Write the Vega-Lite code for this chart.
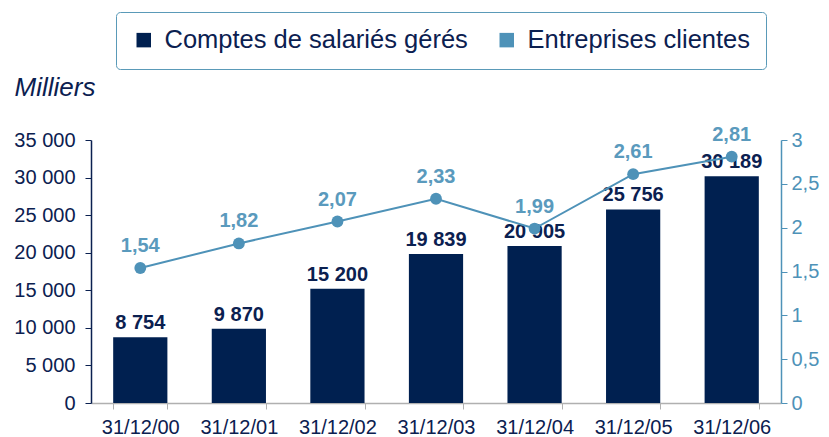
{
  "$schema": "https://vega.github.io/schema/vega-lite/v6.json",
  "width": 690,
  "height": 263,
  "autosize": "none",
  "padding": {"left": 91, "top": 140, "right": 48, "bottom": 34},
  "background": "white",
  "config": {
    "locale": {"number": {"decimal": ",", "thousands": " ", "grouping": [3], "currency": ["", " €"]}},
    "font": "Liberation Sans",
    "view": {"stroke": null},
    "axis": {"grid": false, "labelFont": "Liberation Sans", "labelFontSize": 20, "domainWidth": 1.5}
  },
  "data": {
    "values": [
      {"date": "31/12/00", "comptes": 8754, "entreprises": 1.54},
      {"date": "31/12/01", "comptes": 9870, "entreprises": 1.82},
      {"date": "31/12/02", "comptes": 15200, "entreprises": 2.07},
      {"date": "31/12/03", "comptes": 19839, "entreprises": 2.33},
      {"date": "31/12/04", "comptes": 20905, "entreprises": 1.99},
      {"date": "31/12/05", "comptes": 25756, "entreprises": 2.61},
      {"date": "31/12/06", "comptes": 30189, "entreprises": 2.81}
    ]
  },
  "encoding": {
    "x": {
      "field": "date", "type": "nominal", "sort": null,
      "scale": {"paddingInner": 0.45, "paddingOuter": 0.225},
      "axis": {"title": null, "labelAngle": 0, "labelColor": "#0b2050", "labelPadding": 8, "domainColor": "#b0b0b0", "tickColor": "#b0b0b0", "tickBand": "extent", "tickSize": 6, "domainWidth": 1.5}
    }
  },
  "layer": [
    {
      "encoding": {
        "y": {
          "field": "comptes", "type": "quantitative",
          "scale": {"domain": [0, 35000]},
          "axis": {"values": [0, 5000, 10000, 15000, 20000, 25000, 30000, 35000], "format": ",d", "labelColor": "#0b2050", "domainColor": "#0b2050", "tickColor": "#0b2050", "tickSize": 6, "labelPadding": 10,
            "title": "Milliers", "titleAngle": 0, "titleAlign": "left", "titleBaseline": "middle", "titleX": -77, "titleY": -53, "titleFont": "Liberation Sans", "titleFontStyle": "italic", "titleFontWeight": "normal", "titleFontSize": 26, "titleColor": "#0b2050"}
        }
      },
      "layer": [
        {
          "mark": {"type": "bar"},
          "encoding": {
            "color": {
              "datum": "Comptes de salariés gérés", "type": "nominal",
              "scale": {"domain": ["Comptes de salariés gérés", "Entreprises clientes"], "range": ["#002050", "#4e92b8"]},
              "legend": {"title": null, "orient": "none", "legendX": 25, "legendY": -128, "direction": "horizontal", "symbolType": "square", "symbolSize": 210, "symbolStrokeWidth": 0, "labelFontSize": 25.5, "labelColor": "#0b2050", "labelFont": "Liberation Sans", "columnPadding": 26, "labelOffset": 8, "padding": 15, "strokeColor": "#5a9ab8", "fillColor": "white", "cornerRadius": 4, "symbolOpacity": 1, "labelLimit": 400}
            }
          }
        },
        {
          "mark": {"type": "text", "baseline": "bottom", "dy": -4, "fontSize": 20, "fontWeight": "bold", "color": "#0b2050", "font": "Liberation Sans"},
          "encoding": {
            "text": {"field": "comptes", "type": "quantitative", "format": ",d"}
          }
        }
      ]
    },
    {
      "encoding": {
        "y": {
          "field": "entreprises", "type": "quantitative",
          "scale": {"domain": [0, 3]},
          "axis": {"orient": "right", "values": [0, 0.5, 1, 1.5, 2, 2.5, 3], "format": ".1~f", "title": null, "labelColor": "#4e92b8", "domainColor": "#4e92b8", "tickColor": "#4e92b8", "tickSize": 6, "labelPadding": 4}
        }
      },
      "layer": [
        {
          "mark": {"type": "line", "strokeWidth": 2, "point": {"size": 140, "filled": true, "opacity": 1}},
          "encoding": {
            "color": {"datum": "Entreprises clientes", "type": "nominal"}
          }
        },
        {
          "mark": {"type": "text", "baseline": "bottom", "dy": -12, "fontSize": 20, "fontWeight": "bold", "color": "#5a9abd", "font": "Liberation Sans"},
          "encoding": {
            "text": {"field": "entreprises", "type": "quantitative", "format": ".2f"}
          }
        }
      ]
    }
  ],
  "resolve": {"scale": {"y": "independent"}}
}
